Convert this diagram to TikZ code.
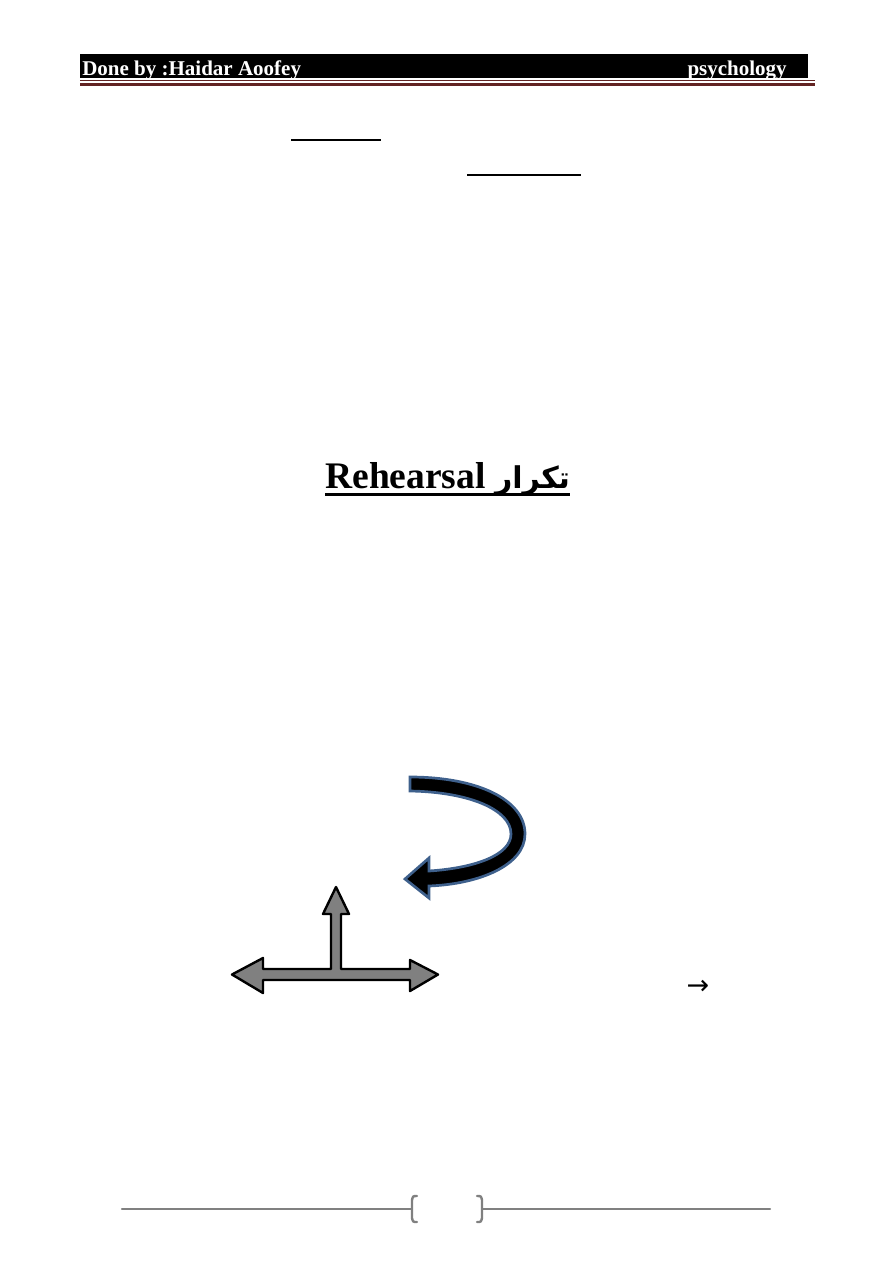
\documentclass[tikz,border=0pt]{standalone}
\usepackage{fontspec}
\setmainfont{Liberation Serif}
\newfontfamily\arabicfont[Script=Arabic]{DejaVu Sans}
\newfontfamily\symfont{DejaVu Sans}
\TeXXeTstate=1
\definecolor{darkred}{RGB}{99,36,35}
\definecolor{arrowblue}{RGB}{62,96,140}
\definecolor{footgray}{RGB}{128,128,128}
\definecolor{arrowgray}{RGB}{128,128,128}
\tikzset{
  blank/.style={line width=1.4pt,black},
  foot/.style={line width=1.6pt,footgray,line cap=round},
  head/.style={anchor=base, inner sep=0pt, text=white, font=\fontsize{14}{16}\selectfont\bfseries},
}
\begin{document}
\begin{tikzpicture}[x=0.6667pt,y=-0.6667pt]
\useasboundingbox (0,0) rectangle (893,1263);
\fill[black] (80,54) rectangle (808,78);
\node[head, anchor=base west] (by) at (82,75) {Done by :Haidar Aoofey};
\node[head, anchor=base east] (sub) at (787,75) {psychology};
\draw[darkred, line width=0.6pt] (80,80.5) -- (815,80.5);
\draw[darkred, line width=2pt] (80,84) -- (815,84);
\draw[blank] (291,140) -- (381,140);
\draw[blank] (467,175) -- (581,175);
\node[anchor=base west, inner sep=0pt, font=\fontsize{25}{29}\selectfont\bfseries] (title) at (325,488)
  {Rehearsal {\arabicfont\fontsize{20}{24}\selectfont\beginR تكرار\endR}};
\draw[line width=2pt] ([yshift=-4pt]title.base west) -- ([yshift=-4pt]title.base east);
\filldraw[fill=black, draw=arrowblue, line width=1.8pt]
  (410,777) .. controls (478,777) and (525,800) .. (525,834)
  .. controls (525,865) and (480,884) .. (429,886) -- (429,898) -- (405,879) -- (429,858) -- (429,871)
  .. controls (475,868) and (511,855) .. (511,834)
  .. controls (511,810) and (470,792) .. (410,791) -- cycle;
\filldraw[fill=arrowgray, draw=black, line width=1.6pt, line join=round]
  (336,887) -- (349,914) -- (341,914) -- (341,969) -- (410,969) -- (410,960) -- (438,974.5)
  -- (410,991) -- (410,980) -- (263,980) -- (263,993) -- (232,974.5) -- (263,958) -- (263,969)
  -- (331,969) -- (331,914) -- (323,914) -- cycle;
\node[inner sep=0pt, font=\symfont\fontsize{18}{20}\selectfont] (to) at (698,987) {→};
\draw[foot] (122,1209) -- (412,1209);
\draw[foot] (417,1196) .. controls (413,1196) .. (412,1200) -- (412,1218) .. controls (413,1222) .. (417,1222);
\draw[foot] (477,1196) .. controls (481,1196) .. (482,1200) -- (482,1218) .. controls (481,1222) .. (477,1222);
\draw[foot] (482,1209) -- (770,1209);
\end{tikzpicture}
\end{document}
